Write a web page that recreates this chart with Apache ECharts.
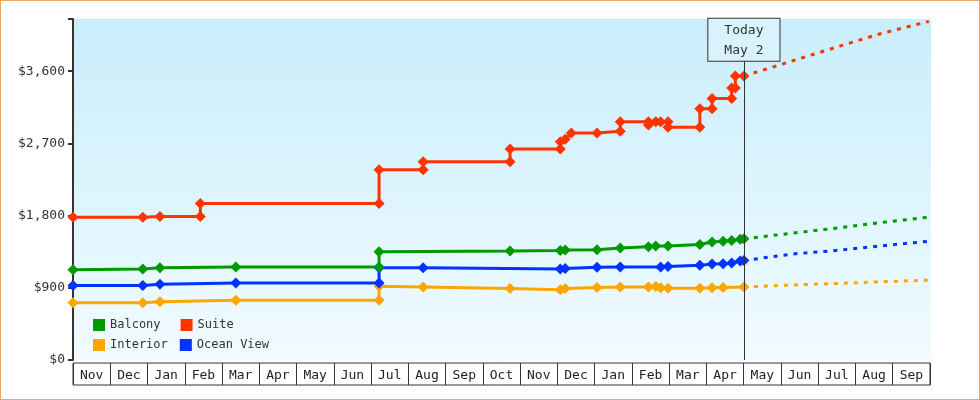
<!DOCTYPE html>
<html><head><meta charset="utf-8">
<script src="https://cdn.jsdelivr.net/npm/echarts@6/dist/echarts.min.js"></script>
<style>html,body{margin:0;padding:0;background:#fff}#c{width:980px;height:400px;box-sizing:border-box;border:1px solid #e8a860}</style>
</head><body><div id="c"></div>
<script>
const months = ['Nov','Dec','Jan','Feb','Mar','Apr','May','Jun','Jul','Aug','Sep','Oct','Nov','Dec','Jan','Feb','Mar','Apr','May','Jun','Jul','Aug','Sep'];
const yTicks = [0, 900, 1800, 2700, 3600];
const today = '2024-05-02';
const suiteDates = ['2022-11-01','2022-12-28','2023-01-11','2023-02-13','2023-02-13','2023-07-09','2023-07-09','2023-08-14','2023-08-14','2023-10-24','2023-10-24','2023-12-04','2023-12-04','2023-12-08','2023-12-13','2024-01-03','2024-01-22','2024-01-22','2024-02-14','2024-02-14','2024-02-20','2024-02-24','2024-03-01','2024-03-01','2024-03-27','2024-03-27','2024-04-06','2024-04-06','2024-04-22','2024-04-22','2024-04-25','2024-04-25','2024-05-02'];
const suiteVals = [1780,1780,1790,1790,1950,1950,2370,2370,2470,2470,2630,2630,2720,2750,2830,2830,2850,2970,2970,2930,2970,2970,2970,2900,2900,3130,3130,3260,3260,3390,3390,3540,3540];
const balconyDates = ['2022-11-01','2022-12-28','2023-01-11','2023-03-14','2023-07-09','2023-07-09','2023-10-24','2023-12-04','2023-12-08','2024-01-03','2024-01-22','2024-02-14','2024-02-20','2024-03-01','2024-03-27','2024-04-06','2024-04-15','2024-04-22','2024-04-29','2024-05-02'];
const balconyVals = [1125,1135,1150,1160,1160,1350,1360,1365,1370,1375,1395,1410,1420,1420,1440,1470,1480,1490,1505,1510];
const oceanDates = ['2022-11-01','2022-12-28','2023-01-11','2023-03-14','2023-07-09','2023-07-09','2023-08-14','2023-12-04','2023-12-08','2024-01-03','2024-01-22','2024-02-24','2024-03-01','2024-03-27','2024-04-06','2024-04-15','2024-04-22','2024-04-29','2024-05-02'];
const oceanVals = [930,930,945,960,960,1150,1150,1135,1140,1155,1160,1160,1165,1180,1195,1200,1210,1235,1240];
const interiorDates = ['2022-11-01','2022-12-28','2023-01-11','2023-03-14','2023-07-09','2023-07-09','2023-08-14','2023-10-24','2023-12-04','2023-12-08','2024-01-03','2024-01-22','2024-02-14','2024-02-20','2024-02-24','2024-03-01','2024-03-27','2024-04-06','2024-04-15','2024-05-02'];
const interiorVals = [715,715,725,745,745,920,910,890,875,890,905,910,910,915,900,895,895,900,905,910];
const fcDates = ['2024-05-02','2024-06-10','2024-07-20','2024-08-20','2024-09-30'];
const suiteFc = [3540,3725,3915,4060,4220];
const balconyFc = [1510,1580,1650,1710,1780];
const oceanFc = [1240,1320,1370,1420,1480];
const interiorFc = [910,935,955,975,995];

const colors = {Balcony:'#009900', Suite:'#ff3300', Interior:'#ffa500', 'Ocean View':'#0033ff'};
const font = 'DejaVu Sans Mono';
const zip = (d,v)=>d.map((x,i)=>[x,v[i]]);
function hist(name,d,v){return {name,type:'line',data:zip(d,v),symbol:'diamond',symbolSize:11,
  lineStyle:{width:3,color:colors[name]},itemStyle:{color:colors[name]},animation:false,z:3};}
function fc(name,v){return {name,type:'line',data:zip(fcDates,v),showSymbol:false,
  lineStyle:{width:3,type:[4,6],color:colors[name]},itemStyle:{color:colors[name]},animation:false,smooth:false};}
const chart = echarts.init(document.getElementById('c'));
chart.setOption({
  animation:false,
  textStyle:{fontFamily:font},
  graphic:[{type:'rect',shape:{x:72,y:18,width:858,height:342},z:-10,silent:true,
    style:{fill:new echarts.graphic.LinearGradient(0,0,0,1,[{offset:0,color:'#c8eefb'},{offset:1,color:'#f2fbff'}])}}],
  grid:[{left:72,right:49,top:18,bottom:39},{left:72,right:49,top:362,height:22,show:true,borderColor:'#333',borderWidth:1}],
  legend:[
    {data:['Balcony','Suite'],left:87,top:313,itemWidth:12,itemHeight:12,itemGap:20,icon:'rect',textStyle:{fontFamily:font,fontSize:12,color:'#333'}},
    {data:['Interior','Ocean View'],left:87,top:333,itemWidth:12,itemHeight:12,itemGap:12,icon:'rect',textStyle:{fontFamily:font,fontSize:12,color:'#333'}}
  ],
  xAxis:[
    {type:'time',gridIndex:0,min:'2022-11-01',max:'2024-10-01',axisLine:{show:false},axisTick:{show:false},axisLabel:{show:false},splitLine:{show:false}},
    {type:'category',gridIndex:1,data:months,boundaryGap:true,axisLine:{show:false},axisTick:{show:false},
      axisLabel:{fontFamily:font,fontSize:13,color:'#222',margin:-16},splitLine:{show:true,interval:0,lineStyle:{color:'#333'}}}
  ],
  yAxis:[
    {type:'value',gridIndex:0,min:0,max:4250,interval:900,
      axisLine:{show:true,lineStyle:{color:'#333',width:2}},axisTick:{show:true,length:5,lineStyle:{color:'#333',width:2}},
      axisLabel:{fontFamily:font,fontSize:13,color:'#333',formatter:v=>yTicks.includes(v)?'$'+v.toLocaleString('en-US'):''},splitLine:{show:false}},
    {type:'value',gridIndex:1,show:false}
  ],
  series:[
    fc('Balcony',balconyFc),fc('Ocean View',oceanFc),fc('Interior',interiorFc),fc('Suite',suiteFc),
    hist('Interior',interiorDates,interiorVals),hist('Ocean View',oceanDates,oceanVals),
    hist('Balcony',balconyDates,balconyVals),
    Object.assign(hist('Suite',suiteDates,suiteVals),{markLine:{silent:true,symbol:'none',animation:false,
      lineStyle:{color:'#333',width:1,type:'solid'},
      label:{show:true,position:'end',formatter:'Today\nMay 2',fontFamily:font,fontSize:13,color:'#333',lineHeight:20,
        backgroundColor:'#d8f3fc',borderColor:'#333',borderWidth:1,padding:[2,16,0,16],distance:0},
      data:[[{coord:[today,0]},{coord:[today,3730]}]]}})
  ]
});
</script></body></html>
